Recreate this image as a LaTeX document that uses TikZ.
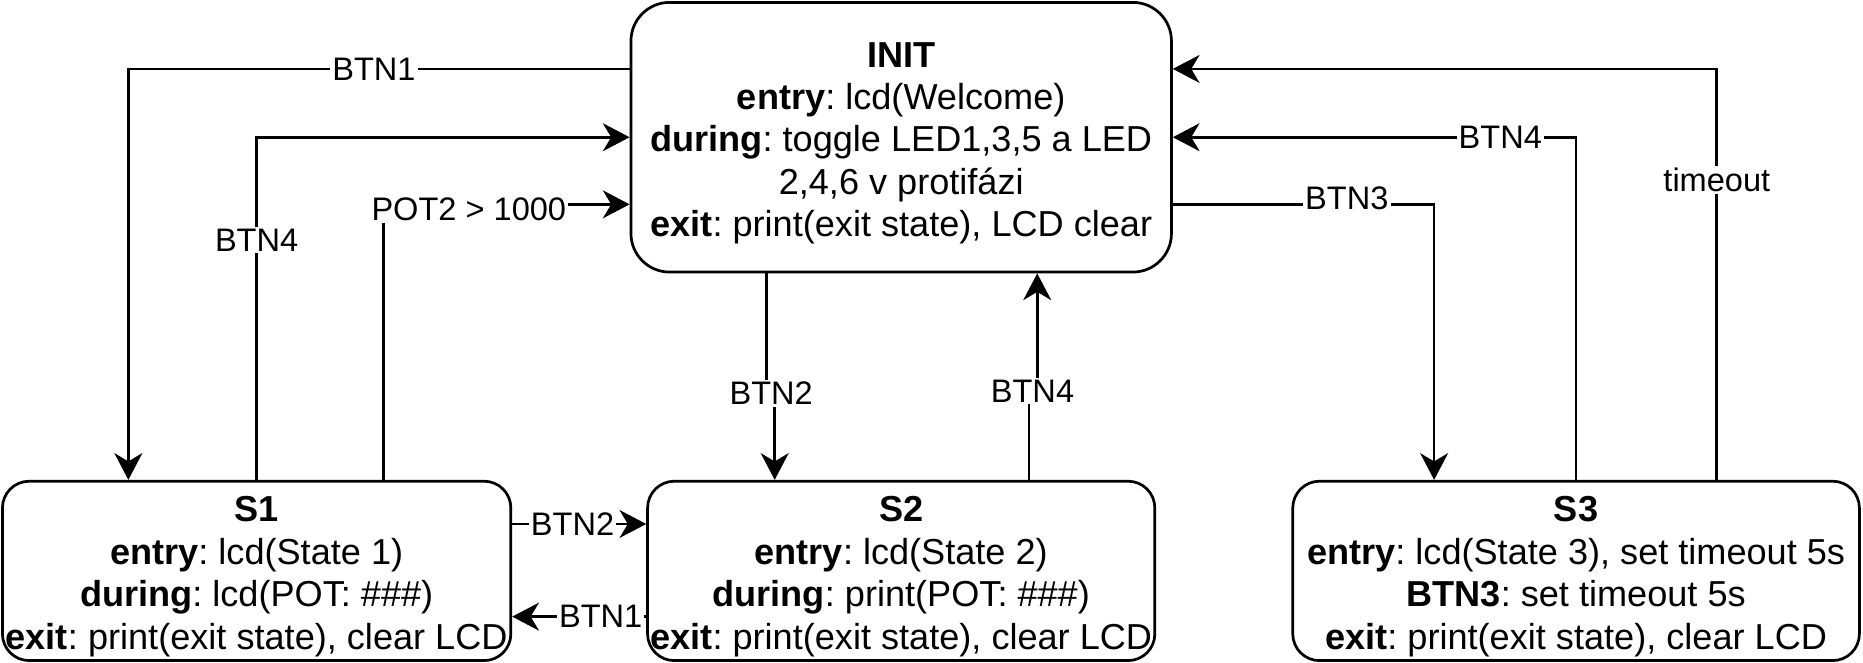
\documentclass[tikz,border=0pt]{standalone}
\usepackage{fontspec}
\setmainfont{Liberation Sans}
\usetikzlibrary{arrows.meta,calc}
\frenchspacing
\newcommand{\nstrut}{\rule{0pt}{17.6pt}}

\begin{document}
\begin{tikzpicture}[
        x=0.02cm, y=-0.02cm, % Координаты в пикселях
        line width=1.3pt,
        arr/.style = {-{Stealth[length=4.5mm, width=4.7mm, inset=1.4mm]}}, % Стрелки
        kant/.style={fill=white, inner sep=1pt, font=\fontsize{15.6}{18.7}\selectfont},
        cell/.style={draw, rounded corners=0.45cm, align=center, inner sep=0pt,
                minimum height=3.02cm, font=\fontsize{17.3}{20.3}\selectfont}, % Стиль узлов
    ]
    \useasboundingbox (0,0) rectangle (1568,558);

    \node[cell, minimum width=9.1cm, minimum height=4.54cm, rounded corners=0.65cm] (init) at (758.5,115.5)
        {\nstrut\textbf{INIT}\\\textbf{entry}: lcd(Welcome)\\\textbf{during}: toggle LED1,3,5 a LED\\2,4,6 v protifázi\\\textbf{exit}: print(exit state), LCD clear};
    \node[cell, minimum width=8.56cm] (s1) at (216,480.5)
        {\nstrut\textbf{S1}\\\textbf{entry}: lcd(State 1)\\\textbf{during}: lcd(POT: \#\#\#)\\\textbf{exit}: print(exit state), clear LCD};
    \node[cell, minimum width=8.54cm] (s2) at (758.5,480.5)
        {\nstrut\textbf{S2}\\\textbf{entry}: lcd(State 2)\\\textbf{during}: print(POT: \#\#\#)\\\textbf{exit}: print(exit state), clear LCD};
    \node[cell, minimum width=9.54cm] (s3) at (1326.5,480.5)
        {\nstrut\textbf{S3}\\\textbf{entry}: lcd(State 3), set timeout 5s\\\textbf{BTN3}: set timeout 5s\\\textbf{exit}: print(exit state), clear LCD};

    % INIT <-> S1
    \draw[arr] ([yshift=1.15cm]init.west) -| node[kant, pos=0.255] {BTN1} ([xshift=-2.16cm]s1.north);
    \draw[arr] (s1.north) |- node[kant, pos=0.35] {BTN4} (init.west);
    \draw[arr] ([xshift=2.14cm]s1.north) |- node[kant, pos=0.673, yshift=-2.6pt] {POT2 > 1000} ([yshift=-1.13cm]init.west);

    % INIT <-> S2
    \coordinate (i2) at ([xshift=-2.27cm]init.south);
    \coordinate (t2) at ([xshift=-2.13cm]s2.north);
    \draw[arr] (i2) |- ($(i2)!0.58!(t2)$) node[kant] {BTN2} -| (t2);
    \coordinate (f4) at ([xshift=2.15cm]s2.north);
    \coordinate (i4) at ([xshift=2.29cm]init.south);
    \draw[arr] (f4) |- ($(f4)!0.43!(i4)$) node[kant] {BTN4} -| (i4);

    % S1 <-> S2
    \draw[arr] ([yshift=0.79cm]s1.east) -- node[kant, pos=0.45] {BTN2} ([yshift=0.79cm]s2.west);
    \draw[arr] ([yshift=-0.77cm]s2.west) -- node[kant, pos=0.34] {BTN1} ([yshift=-0.77cm]s1.east);

    % INIT <-> S3
    \draw[arr] ([yshift=-1.13cm]init.east) -| node[kant, pos=0.333, yshift=3pt] {BTN3} ([xshift=-2.39cm]s3.north);
    \draw[arr] (s3.north) |- node[kant, pos=0.594] {BTN4} (init.east);
    \draw[arr] ([xshift=2.37cm]s3.north) |- node[kant, pos=0.365] {timeout} ([yshift=1.15cm]init.east);

\end{tikzpicture}
\end{document}
